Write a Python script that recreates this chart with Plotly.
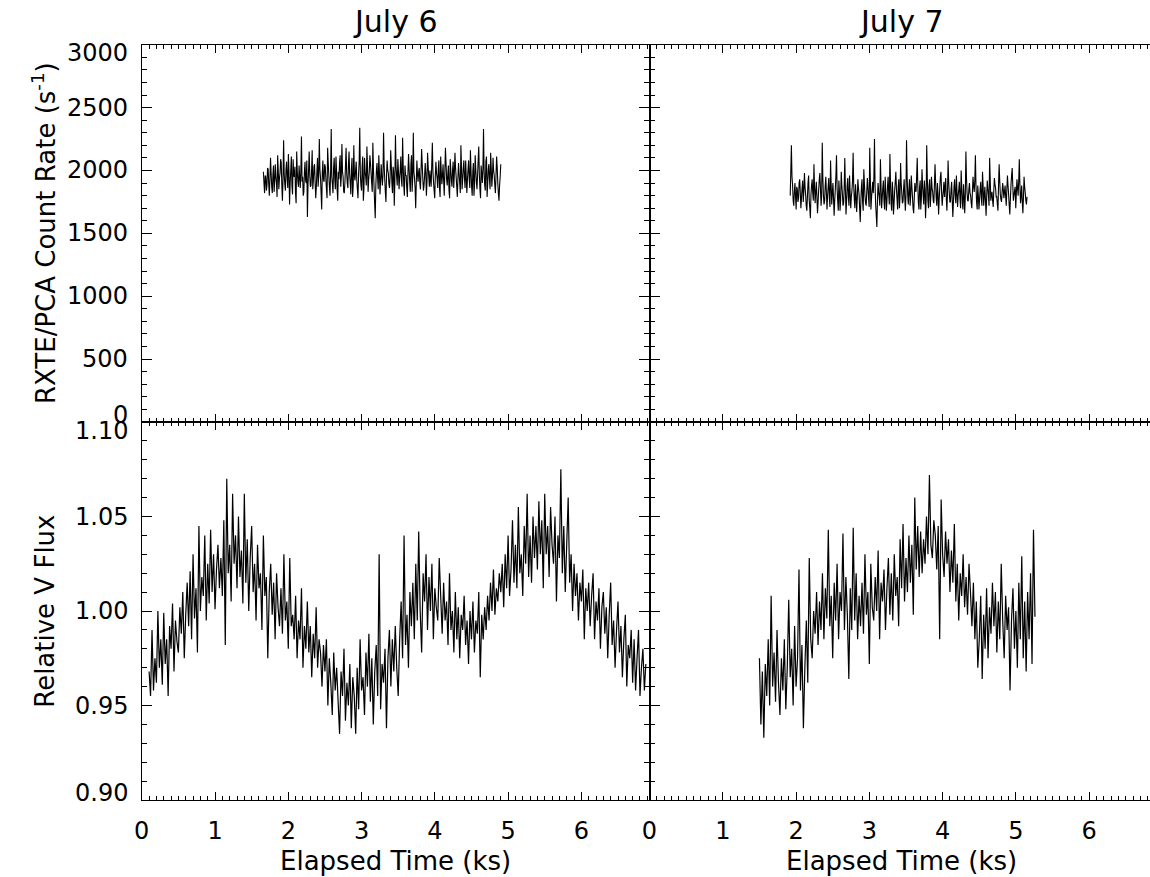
import plotly.graph_objects as go

# ---------------- data ----------------
PANEL_TITLES = ["July 6", "July 7"]
X_TITLE = "Elapsed Time (ks)"
Y_TITLE_TOP = "RXTE/PCA Count Rate (s<sup>-1</sup>)"
Y_TITLE_BOT = "Relative V Flux"

X_TICKS = [0, 1, 2, 3, 4, 5, 6]
Y_TICKS_TOP = [0, 500, 1000, 1500, 2000, 2500, 3000]
Y_TICKS_BOT = [0.90, 0.95, 1.00, 1.05, 1.10]
Y_TICKTEXT_BOT = ["0.90", "0.95", "1.00", "1.05", "1.10"]

# X-ray count rates (s^-1), evenly sampled light curves
XR6_START, XR6_STEP = 1.66, 0.00812
XR6 = [1990, 1900, 1820, 1960, 1950, 1840, 1880, 2020, 2010, 1890, 1800, 1930, 2100, 1980, 1870, 1820, 1960, 2040, 1830, 1910,
       2050, 1950, 1900, 1790, 2120, 2000, 1850, 1940, 1980, 2090, 2060, 1880, 1760, 1930, 2240, 1970, 1890, 1840, 2010, 2070,
       1940, 1860, 2130, 1990, 1730, 1900, 2000, 2110, 1880, 1810, 2090, 1960, 1950, 2030, 1820, 1740, 2150, 1990, 1910, 1870,
       2040, 1950, 1860, 2000, 2270, 1910, 1950, 1800, 1830, 1990, 2070, 1920, 1900, 2080, 1630, 1880, 2010, 2150, 1960, 1870,
       1880, 2000, 2160, 1850, 1920, 2030, 2050, 1900, 1780, 1870, 2000, 2100, 1870, 1960, 2250, 2010, 1940, 1820, 1690, 1980,
       2080, 1930, 1910, 2050, 2030, 1940, 1850, 1780, 2180, 2060, 1960, 1870, 1800, 1990, 2330, 1950, 1890, 1820, 2020, 2100,
       1930, 1850, 2110, 2000, 1840, 1760, 1990, 1930, 2060, 2120, 1870, 1950, 2210, 1990, 1950, 1830, 1820, 1900, 2040, 2180,
       1980, 1900, 1860, 2050, 2150, 1970, 1900, 1810, 2010, 2100, 1790, 1880, 2200, 1960, 1920, 2000, 2070, 1920, 1850, 1780,
       1970, 2070, 2340, 1960, 1880, 1840, 2030, 2110, 1760, 1850, 2100, 1990, 1950, 1880, 2190, 2030, 1830, 1930, 1990, 2120,
       2060, 1980, 1900, 1830, 2220, 2010, 1870, 1740, 1620, 1880, 2000, 2060, 1940, 1850, 2120, 1990, 1810, 1920, 2050, 1960,
       1880, 1960, 2300, 2040, 1930, 1830, 1750, 1960, 2080, 2000, 1980, 1890, 1860, 1950, 2160, 2040, 1900, 1820, 2030, 1990,
       1720, 1910, 2280, 2030, 1950, 1880, 2090, 2000, 1850, 1940, 2000, 2110, 1920, 1870, 2260, 2040, 1880, 1800, 2040, 1960,
       1960, 1860, 1790, 1980, 2130, 2010, 1900, 1830, 2050, 2120, 1830, 1940, 2300, 1990, 1940, 1860, 1700, 1900, 2080, 1970,
       1910, 1990, 2020, 1900, 1850, 2000, 2170, 2050, 1930, 1840, 1880, 1960, 2060, 1980, 1800, 1910, 2140, 2030, 1950, 1870,
       2000, 1920, 1870, 2050, 2220, 1990, 1910, 1840, 1780, 1960, 2070, 1980, 1940, 1860, 2010, 2080, 1860, 1790, 2110, 1990,
       1890, 1960, 2050, 1920, 1800, 1990, 2180, 2060, 1930, 1880, 1970, 2040, 1840, 1780, 2090, 2010, 1920, 1870, 2000, 2070,
       1860, 1980, 2140, 2020, 1950, 1870, 1790, 1940, 2060, 1970, 1900, 1820, 2200, 2030, 1850, 1930, 2020, 2080, 1940, 1860,
       2080, 1950, 1820, 1930, 2010, 2080, 1930, 1860, 2160, 2000, 1870, 1800, 1990, 2060, 1800, 1900, 2120, 2010, 1910, 1850,
       1960, 2080, 2190, 1970, 1850, 1780, 2040, 1980, 1900, 2010, 2330, 2000, 1880, 1840, 2070, 2110, 1790, 1890, 2010, 2050,
       1930, 1850, 2140, 2020, 1870, 1950, 2100, 2000, 1960, 1880, 1820, 1960, 2110, 2030, 1900, 1820, 1760, 1880, 1950, 2050]

XR7_START, XR7_STEP = 1.92, 0.0081
XR7 = [1800, 1990, 2200, 1950, 1880, 1760, 1720, 1830, 1900, 1790, 1690, 1870, 1850, 1750, 1780, 1900, 1930, 1820, 1700, 1780,
       1860, 1920, 1750, 1840, 1980, 1870, 1810, 1720, 1680, 1790, 1900, 1960, 1770, 1700, 1620, 1810, 1880, 1930, 1820, 1760,
       2050, 1870, 1740, 1830, 1910, 1790, 1660, 1750, 1850, 1930, 1980, 1850, 1720, 1800, 2220, 1940, 1800, 1730, 1760, 1880,
       1950, 1820, 1690, 1800, 1870, 1940, 1780, 1710, 2080, 1890, 1730, 1820, 1900, 1780, 1640, 1760, 1850, 1960, 2120, 1860,
       1760, 1680, 1920, 1830, 1680, 1770, 1990, 1880, 1810, 1720, 1740, 1870, 2100, 1850, 1650, 1760, 1880, 1940, 1790, 1720,
       1960, 1820, 1700, 1790, 1840, 1920, 2140, 1880, 1770, 1700, 1890, 1800, 1670, 1780, 1930, 1860, 1810, 1700, 1590, 1750,
       1870, 1930, 1750, 1680, 2010, 1900, 1800, 1740, 1720, 1830, 1940, 1860, 1780, 1710, 2180, 1930, 1690, 1780, 1850, 1910,
       1820, 1950, 2250, 1870, 1730, 1640, 1550, 1760, 1900, 1830, 1790, 1720, 2090, 1880, 1700, 1780, 1860, 1920, 1760, 1690,
       1950, 1820, 1680, 1760, 1880, 1950, 1810, 1730, 2130, 1900, 1740, 1680, 1910, 1830, 1650, 1740, 1840, 1910, 1990, 1850,
       1770, 1690, 1870, 1930, 1700, 1790, 2060, 1900, 1820, 1740, 1750, 1850, 1930, 1790, 1680, 1800, 2240, 1950, 1800, 1730,
       1850, 1930, 1720, 1800, 1960, 1870, 1790, 1700, 1660, 1780, 1900, 1840, 1830, 1950, 2100, 1880, 1740, 1690, 1870, 1920,
       1690, 1780, 2010, 1890, 1800, 1730, 1920, 1850, 1620, 1760, 2200, 1940, 1760, 1700, 1880, 1930, 1710, 1800, 1950, 1860,
       1830, 1760, 1740, 1890, 2050, 1900, 1780, 1720, 1900, 1820, 1650, 1770, 1860, 1950, 1990, 1830, 1720, 1790, 1840, 1910,
       1790, 1870, 1940, 1780, 1680, 1820, 2080, 1910, 1820, 1750, 1750, 1850, 1910, 1760, 1630, 1750, 1870, 1930, 1800, 1740,
       1960, 1830, 1710, 1800, 1850, 1910, 1780, 1700, 2000, 1870, 1740, 1690, 1890, 1800, 1660, 1790, 2150, 1940, 1820, 1760,
       1760, 1850, 1900, 1820, 1800, 1740, 1700, 1830, 1950, 1880, 1830, 1920, 2120, 1880, 1750, 1690, 1880, 1800, 1690, 1770,
       1850, 1910, 1780, 1720, 1990, 1880, 1720, 1800, 1870, 1760, 1640, 1790, 1920, 1860, 1800, 1720, 2100, 1930, 1760, 1810,
       1830, 1760, 1710, 1840, 1940, 1890, 1860, 1790, 1790, 1730, 1680, 1880, 2050, 1920, 1810, 1770, 1750, 1830, 1900, 1850,
       1780, 1830, 1880, 1790, 1720, 1850, 1960, 1880, 1810, 1720, 1650, 1780, 1890, 1960, 2020, 1880, 1760, 1800, 1840, 1870,
       1700, 1820, 1930, 1860, 1800, 1920, 2090, 1890, 1740, 1800, 1880, 1750, 1660, 1790, 1950, 1870, 1820, 1760, 1730, 1790]

# Relative V flux, evenly sampled light curves
OPT6_START, OPT6_STEP = 0.10, 0.02
OPT6 = [0.968, 0.955, 0.990, 0.958, 0.975, 0.962, 1.000, 0.970, 0.985, 0.961,
        0.999, 0.972, 0.985, 0.955, 0.992, 0.980, 1.004, 0.968, 0.995, 0.984,
        0.978, 1.002, 0.988, 1.010, 0.975, 0.998, 1.015, 0.992, 1.021, 0.985,
        1.030, 0.996, 1.012, 0.978, 1.045, 1.000, 1.018, 1.008, 1.040, 0.995,
        1.025, 1.004, 1.043, 1.010, 1.030, 1.001, 1.022, 1.035, 1.012, 1.028,
        1.008, 1.048, 0.982, 1.070, 1.020, 1.035, 1.005, 1.062, 1.025, 1.040,
        1.012, 1.050, 1.018, 1.032, 1.004, 1.062, 1.015, 1.038, 1.000, 1.028,
        1.045, 1.010, 1.025, 0.995, 1.035, 1.012, 1.020, 0.990, 1.040, 1.008,
        1.018, 0.975, 1.010, 1.025, 0.998, 1.015, 0.985, 1.020, 1.002, 0.992,
        1.012, 0.988, 1.030, 0.995, 1.005, 0.980, 1.028, 0.992, 0.998, 0.985,
        1.008, 0.975, 0.995, 0.985, 1.012, 0.970, 0.992, 0.980, 1.005, 0.978,
        0.992, 0.965, 0.988, 0.975, 1.002, 0.970, 0.985, 0.978, 0.960, 0.982,
        0.968, 0.985, 0.950, 0.975, 0.962, 0.945, 0.978, 0.958, 0.970, 0.952,
        0.935, 0.968, 0.955, 0.980, 0.942, 0.962, 0.950, 0.972, 0.938, 0.965,
        0.955, 0.935, 0.970, 0.948, 0.985, 0.958, 0.965, 0.945, 0.978, 0.960,
        0.988, 0.952, 0.975, 0.940, 0.968, 0.982, 0.955, 1.030, 0.948, 0.972,
        0.962, 0.980, 0.938, 0.975, 0.990, 0.960, 0.985, 0.968, 0.992, 0.970,
        0.955, 0.985, 1.005, 0.975, 1.040, 0.982, 0.998, 0.970, 1.010, 0.992,
        1.015, 0.985, 1.025, 0.995, 1.042, 1.000, 0.978, 1.020, 1.005, 1.030,
        0.990, 1.018, 1.000, 1.025, 0.985, 1.012, 1.002, 0.995, 1.028, 1.008,
        0.988, 1.015, 0.995, 1.005, 0.982, 1.020, 0.990, 1.000, 0.978, 1.010,
        0.985, 1.002, 0.975, 0.998, 0.990, 1.008, 0.982, 0.995, 0.972, 1.000,
        0.985, 1.005, 0.978, 0.995, 0.988, 1.010, 0.965, 0.998, 0.985, 1.002,
        0.990, 1.008, 0.995, 1.015, 1.000, 1.022, 0.998, 1.012, 1.005, 1.020,
        1.010, 1.025, 1.002, 1.030, 1.012, 1.040, 1.008, 1.022, 1.048, 1.015,
        1.035, 1.012, 1.055, 1.020, 1.030, 1.008, 1.045, 1.025, 1.062, 1.018,
        1.040, 1.015, 1.050, 1.028, 1.045, 1.022, 1.058, 1.030, 1.048, 1.012,
        1.062, 1.030, 1.045, 1.018, 1.055, 1.035, 1.025, 1.050, 1.005, 1.040,
        1.028, 1.075, 1.020, 1.045, 1.010, 1.035, 1.060, 1.015, 1.030, 1.000,
        1.025, 1.008, 1.020, 0.995, 1.015, 1.005, 1.022, 0.985, 1.012, 1.000,
        1.015, 0.992, 1.008, 1.020, 0.985, 1.005, 0.995, 1.012, 0.980, 1.002,
        1.010, 0.988, 1.002, 0.975, 0.998, 1.015, 0.982, 0.995, 0.970, 0.990,
        1.005, 0.978, 0.992, 0.965, 0.985, 0.998, 0.960, 0.982, 0.975, 0.990,
        0.962, 0.985, 0.958, 0.975, 0.990, 0.955, 0.970, 0.980, 0.958, 0.972]

OPT7_START, OPT7_STEP = 1.50, 0.02
OPT7 = [0.975, 0.940, 0.968, 0.933, 0.972, 0.955, 0.985, 0.950, 1.008, 0.960,
        0.978, 0.952, 0.990, 0.962, 0.945, 0.975, 0.958, 0.985, 0.948, 0.970,
        1.006, 0.965, 0.980, 0.950, 0.992, 0.960, 0.975, 1.022, 0.958, 0.982,
        0.938, 0.970, 0.995, 0.962, 1.028, 0.985, 0.975, 1.000, 0.988, 1.010,
        0.982, 1.005, 0.990, 1.020, 0.985, 1.012, 0.996, 1.043, 0.992, 1.008,
        0.975, 1.015, 0.995, 1.025, 0.985, 1.010, 1.000, 1.041, 0.990, 1.018,
        0.998, 0.964, 1.012, 0.990, 1.044, 0.995, 1.020, 0.985, 1.008, 0.992,
        1.015, 0.988, 1.030, 0.998, 1.010, 0.972, 1.025, 1.002, 0.995, 1.018,
        1.000, 1.032, 0.985, 1.015, 1.005, 1.022, 0.990, 1.012, 1.028, 0.998,
        1.020, 0.995, 1.030, 1.008, 1.018, 0.992, 1.038, 1.012, 1.046, 1.005,
        1.028, 1.010, 1.040, 1.015, 1.035, 0.998, 1.060, 1.022, 1.045, 1.018,
        1.042, 1.020, 1.038, 1.025, 1.050, 1.030, 1.072, 1.035, 1.028, 1.048,
        1.040, 1.022, 1.045, 0.985, 1.059, 1.030, 1.018, 1.042, 1.025, 1.038,
        1.010, 1.032, 1.015, 1.046, 1.005, 1.025, 0.995, 1.020, 1.008, 1.030,
        1.002, 1.018, 0.998, 1.025, 1.010, 0.992, 1.015, 0.985, 1.005, 0.970,
        0.985, 1.008, 0.964, 0.998, 0.980, 1.012, 0.975, 1.002, 0.988, 1.015,
        0.992, 1.010, 0.978, 1.005, 0.985, 1.025, 0.995, 0.975, 1.008, 0.990,
        1.002, 0.958, 0.995, 1.012, 0.980, 1.000, 0.970, 1.015, 0.985, 1.029,
        0.975, 1.005, 0.968, 1.010, 0.985, 1.020, 0.972, 1.043, 0.997]

# ---------------- layout geometry (pixels of the 1150x877 page) ----------------
W, H = 1150, 877
LEFT_X0, MID_X, RIGHT_X1 = 134.7, 646.0, 1150.0
TOP_Y, MID_Y, BOT_Y = 44.7, 422.0, 800.0
X_RANGE_L = [0, 6.93]
X_RANGE_R = [0, 6.83]
FONT = "DejaVu Sans"


def times(start, step, vals):
    return [start + i * step for i in range(len(vals))]


def fx(p):
    return p / W


def fy(p):
    return 1 - p / H


fig = go.Figure()
xr_line = dict(color="black", width=1.1, simplify=False)
opt_line = dict(color="black", width=1.2, simplify=False)
fig.add_trace(go.Scatter(x=times(XR6_START, XR6_STEP, XR6), y=XR6, mode="lines",
                         line=xr_line, xaxis="x", yaxis="y", showlegend=False))
fig.add_trace(go.Scatter(x=times(XR7_START, XR7_STEP, XR7), y=XR7, mode="lines",
                         line=xr_line, xaxis="x2", yaxis="y2", showlegend=False))
fig.add_trace(go.Scatter(x=times(OPT6_START, OPT6_STEP, OPT6), y=OPT6, mode="lines",
                         line=opt_line, xaxis="x3", yaxis="y3", showlegend=False))
fig.add_trace(go.Scatter(x=times(OPT7_START, OPT7_STEP, OPT7), y=OPT7, mode="lines",
                         line=opt_line, xaxis="x4", yaxis="y4", showlegend=False))

axis_common = dict(showline=True, linecolor="black", linewidth=1.3, ticks="inside",
                   tickcolor="black", tickwidth=1, showgrid=False, zeroline=False,
                   fixedrange=True)


def xaxis(domain, rng, anchor, labels):
    return dict(axis_common, domain=domain, range=rng, anchor=anchor, mirror="ticks",
                tickmode="array", tickvals=X_TICKS, ticklen=8,
                minor=dict(ticks="inside", dtick=0.1, tick0=0, ticklen=4,
                           tickcolor="black", tickwidth=1),
                showticklabels=labels,
                tickfont=dict(family=FONT, size=24, color="black"),
                ticklabelstandoff=9)


def yaxis(domain, rng, anchor, ticks, minor_dtick, mirror):
    return dict(axis_common, domain=domain, range=rng, anchor=anchor, mirror=mirror,
                tickmode="array", tickvals=ticks, ticklen=10,
                minor=dict(ticks="inside", dtick=minor_dtick, tick0=0, ticklen=5,
                           tickcolor="black", tickwidth=1),
                showticklabels=False)


xl = [fx(LEFT_X0), fx(MID_X)]
xr = [fx(MID_X), fx(RIGHT_X1)]
yt = [fy(MID_Y), fy(TOP_Y)]
yb = [fy(BOT_Y), fy(MID_Y)]

fig.update_layout(
    width=W, height=H,
    margin=dict(l=0, r=0, t=0, b=0),
    paper_bgcolor="white", plot_bgcolor="white",
    showlegend=False,
    xaxis=xaxis(xl, X_RANGE_L, "y", False),
    yaxis=yaxis(yt, [0, 3000], "x", Y_TICKS_TOP, 100, "ticks"),
    xaxis2=xaxis(xr, X_RANGE_R, "y2", False),
    yaxis2=yaxis(yt, [0, 3000], "x2", Y_TICKS_TOP, 100, False),
    xaxis3=xaxis(xl, X_RANGE_L, "y3", True),
    yaxis3=yaxis(yb, [0.90, 1.10], "x3", Y_TICKS_BOT, 0.01, "ticks"),
    xaxis4=xaxis(xr, X_RANGE_R, "y4", True),
    yaxis4=yaxis(yb, [0.90, 1.10], "x4", Y_TICKS_BOT, 0.01, False),
)

ann = []
tick_font = dict(family=FONT, size=24, color="black")
label_x = fx(LEFT_X0 - 12)
for i, v in enumerate(Y_TICKS_TOP):
    shift = -8 if i == len(Y_TICKS_TOP) - 1 else (7 if i == 0 else 0)
    ann.append(dict(x=label_x, xref="paper", y=v, yref="y", text=str(v),
                    xanchor="right", yanchor="middle", showarrow=False,
                    font=tick_font, yshift=shift))
for i, v in enumerate(Y_TICKS_BOT):
    shift = -9 if i == len(Y_TICKS_BOT) - 1 else (7 if i == 0 else 0)
    ann.append(dict(x=label_x, xref="paper", y=v, yref="y3", text=Y_TICKTEXT_BOT[i],
                    xanchor="right", yanchor="middle", showarrow=False,
                    font=tick_font, yshift=shift))

title_font = dict(family=FONT, size=30, color="black")
ann.append(dict(x=fx((LEFT_X0 + MID_X) / 2), y=fy(21), xref="paper", yref="paper",
                text=PANEL_TITLES[0], showarrow=False, font=title_font,
                xanchor="center", yanchor="middle"))
ann.append(dict(x=fx(900), y=fy(21), xref="paper", yref="paper",
                text=PANEL_TITLES[1], showarrow=False, font=title_font,
                xanchor="center", yanchor="middle"))

lab_font = dict(family=FONT, size=26, color="black")
ann.append(dict(x=fx((LEFT_X0 + MID_X) / 2), y=fy(861), xref="paper", yref="paper",
                text=X_TITLE, showarrow=False, font=lab_font,
                xanchor="center", yanchor="middle"))
ann.append(dict(x=fx(900), y=fy(861), xref="paper", yref="paper",
                text=X_TITLE, showarrow=False, font=lab_font,
                xanchor="center", yanchor="middle"))
ann.append(dict(x=fx(37), y=fy((TOP_Y + MID_Y) / 2), xref="paper", yref="paper",
                text=Y_TITLE_TOP, showarrow=False, font=lab_font, textangle=-90,
                xanchor="center", yanchor="middle"))
ann.append(dict(x=fx(37), y=fy((MID_Y + BOT_Y) / 2), xref="paper", yref="paper",
                text=Y_TITLE_BOT, showarrow=False, font=lab_font, textangle=-90,
                xanchor="center", yanchor="middle"))

fig.update_layout(annotations=ann)
fig.write_html("out.html",
               config={"displayModeBar": False},
               post_script="document.body.style.margin='0';"
                           "document.body.style.overflow='hidden';")
